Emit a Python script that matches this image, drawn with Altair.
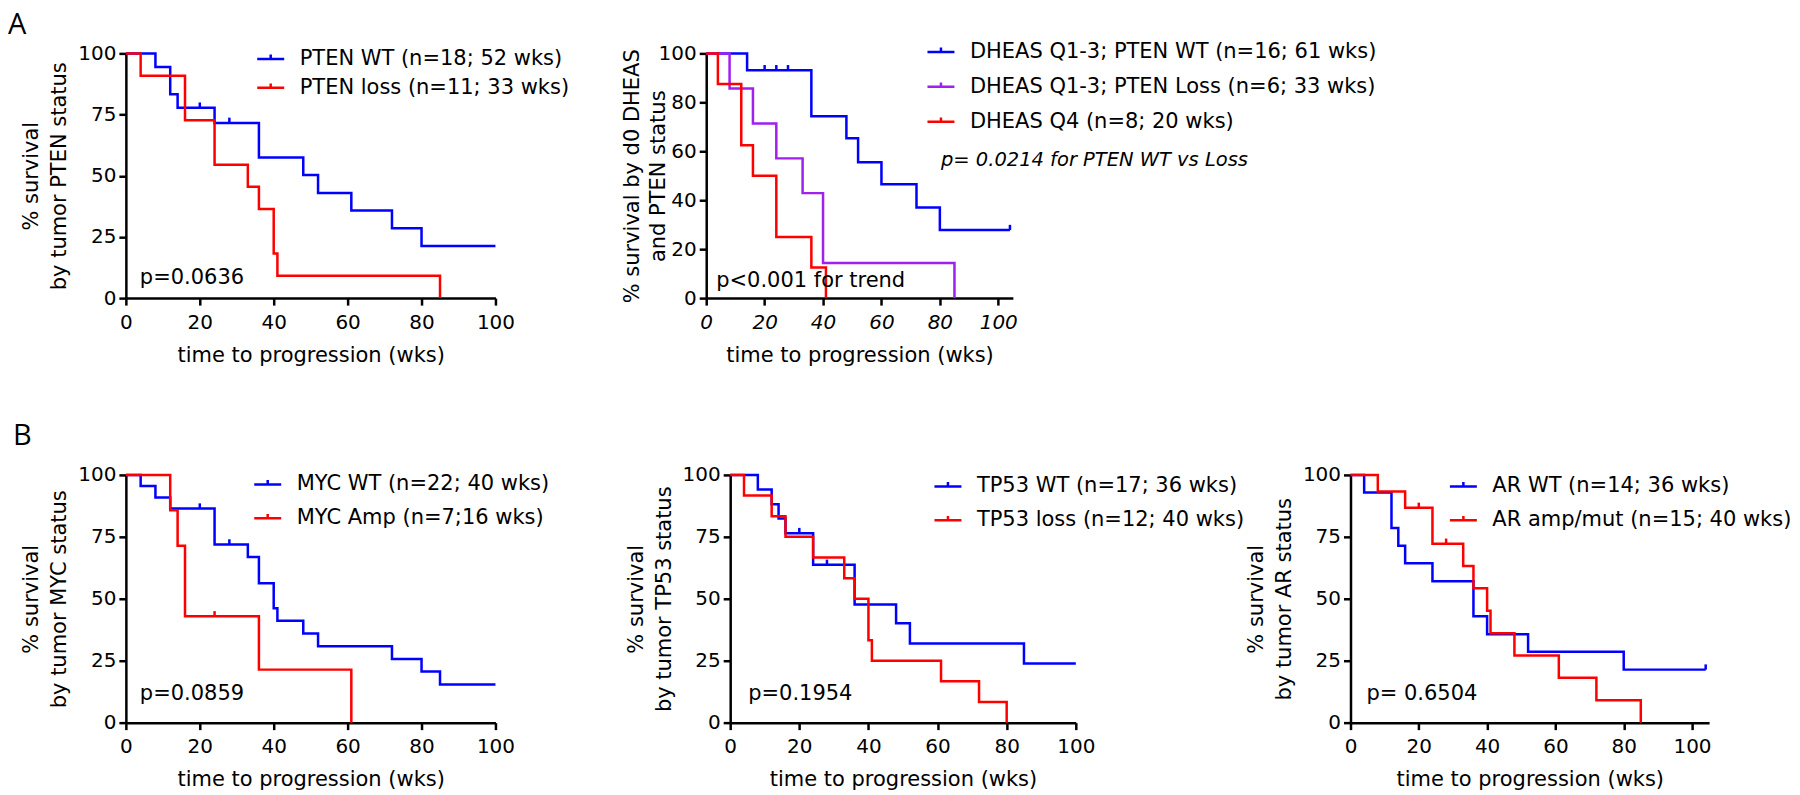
import altair as alt
import pandas as pd

BLUE = "#0000ff"
RED = "#ff0000"
PURPLE = "#a020f0"
FONT = "DejaVu Sans"

# ---------------- Panel A1: PTEN ----------------
pten_labels = ["PTEN WT (n=18; 52 wks)", "PTEN loss (n=11; 33 wks)"]
pten_wt_t = [0, 8, 12, 14, 24, 36, 48, 52, 61, 72, 80, 100]
pten_wt_s = [100, 94.4, 83.3, 77.8, 71.6, 57.5, 50.3, 43.0, 35.8, 28.5, 21.3, 21.3]
pten_wt_cens_t = [20, 28]
pten_wt_cens_s = [77.8, 71.6]
pten_loss_t = [0, 4, 16, 24, 33, 36, 40, 41, 85]
pten_loss_s = [100, 90.9, 72.7, 54.5, 45.5, 36.4, 18.2, 9.1, 0]

# ---------------- Panel A2: DHEAS ----------------
dheas_labels = ["DHEAS Q1-3; PTEN WT (n=16; 61 wks)",
                "DHEAS Q1-3; PTEN Loss (n=6; 33 wks)",
                "DHEAS Q4 (n=8; 20 wks)"]
dheas_wt_t = [0, 14, 36, 48, 52, 60, 72, 80, 104]
dheas_wt_s = [100, 93.1, 74.3, 65.3, 55.5, 46.5, 37.0, 27.8, 27.8]
dheas_wt_cens_t = [20, 24, 28, 104]
dheas_wt_cens_s = [93.1, 93.1, 93.1, 27.8]
dheas_loss_t = [0, 8, 16, 24, 33, 40, 85]
dheas_loss_s = [100, 85.7, 71.4, 57.1, 42.9, 14.3, 0]
dheas_q4_t = [0, 4, 12, 16, 24, 36, 41]
dheas_q4_s = [100, 87.5, 62.5, 50.0, 25.0, 12.5, 0]

# ---------------- Panel B1: MYC ----------------
myc_labels = ["MYC WT (n=22; 40 wks)", "MYC Amp (n=7;16 wks)"]
myc_wt_t = [0, 4, 8, 12, 24, 33, 36, 40, 41, 48, 52, 72, 80, 85, 100]
myc_wt_s = [100, 95.5, 90.9, 86.4, 71.9, 66.9, 56.3, 46.2, 41.1, 36.0, 30.8, 25.7, 20.6, 15.4, 15.4]
myc_wt_cens_t = [20, 28]
myc_wt_cens_s = [86.4, 71.9]
myc_amp_t = [0, 12, 14, 16, 36, 61]
myc_amp_s = [100, 85.7, 71.4, 42.9, 21.4, 0]
myc_amp_cens_t = [24]
myc_amp_cens_s = [42.9]

# ---------------- Panel B2: TP53 ----------------
tp53_labels = ["TP53 WT (n=17; 36 wks)", "TP53 loss (n=12; 40 wks)"]
tp53_wt_t = [0, 8, 12, 14, 16, 24, 36, 48, 52, 85, 100]
tp53_wt_s = [100, 94.1, 88.2, 82.4, 76.5, 63.7, 47.7, 40.1, 31.9, 23.9, 23.9]
tp53_wt_cens_t = [20, 28]
tp53_wt_cens_s = [76.5, 63.7]
tp53_loss_t = [0, 4, 12, 16, 24, 33, 36, 40, 41, 61, 72, 80]
tp53_loss_s = [100, 91.7, 83.3, 75.0, 66.7, 58.3, 50.0, 33.3, 25.0, 16.7, 8.3, 0]

# ---------------- Panel B3: AR ----------------
ar_labels = ["AR WT (n=14; 36 wks)", "AR amp/mut (n=15; 40 wks)"]
ar_wt_t = [0, 4, 12, 14, 16, 24, 36, 40, 52, 80, 104]
ar_wt_s = [100, 92.9, 78.6, 71.4, 64.3, 57.1, 42.9, 35.7, 28.6, 21.4, 21.4]
ar_wt_cens_t = [104]
ar_wt_cens_s = [21.4]
ar_mut_t = [0, 8, 16, 24, 33, 36, 40, 41, 48, 61, 72, 85]
ar_mut_s = [100, 93.3, 86.7, 72.2, 63.2, 54.2, 45.2, 36.1, 27.1, 18.1, 9.0, 0]
ar_mut_cens_t = [20, 28]
ar_mut_cens_s = [86.7, 72.2]

x_ticks = [0, 20, 40, 60, 80, 100]
y_ticks_25 = [0, 25, 50, 75, 100]
y_ticks_20 = [0, 20, 40, 60, 80, 100]


def make_panel(series, censors, labels, colors, xmax, width, height, ytitle,
               yticks, legend_x, legend_y, row_pad, notes, italic_ticks=False,
               panel_letter=None, ytitle_pad=8, ytitle_lh=28):
    line_rows = []
    for lab, ts, ss in series:
        for t, s in zip(ts, ss):
            line_rows.append({"t": t, "s": s, "grp": lab})
    cens_rows = []
    for lab, ts, ss in censors:
        for t, s in zip(ts, ss):
            cens_rows.append({"t": t, "s": s, "grp": lab})
    df_line = pd.DataFrame(line_rows)
    df_cens = pd.DataFrame(cens_rows)

    xenc = alt.X("t:Q", scale=alt.Scale(domain=[0, xmax], nice=False, zero=True),
                 axis=alt.Axis(values=x_ticks, title="time to progression (wks)",
                               labelFontStyle="italic" if italic_ticks else "normal"))
    yenc = alt.Y("s:Q", scale=alt.Scale(domain=[0, 100], nice=False),
                 axis=alt.Axis(values=yticks, title=ytitle, titlePadding=ytitle_pad,
                               titleLineHeight=ytitle_lh))
    color_scale = alt.Scale(domain=labels, range=colors)

    lines = alt.Chart(df_line).mark_line(interpolate="step-after", strokeWidth=2.5).encode(
        x=xenc, y=yenc,
        color=alt.Color("grp:N", scale=color_scale, sort=labels,
                        legend=alt.Legend(orient="none", legendX=legend_x, legendY=legend_y,
                                          title=None, symbolType="M-1,0H1M0,0V-0.32",
                                          symbolSize=729, symbolStrokeWidth=2.5,
                                          labelFont=FONT, labelFontSize=21, labelLimit=1000,
                                          labelColor="black", labelOffset=14,
                                          rowPadding=row_pad, padding=0, offset=0)),
    )
    cens = alt.Chart(df_cens).mark_point(shape="M0,0V-1", size=110, strokeWidth=2.5,
                                         filled=False, opacity=1).encode(
        x="t:Q", y="s:Q",
        color=alt.Color("grp:N", scale=color_scale, sort=labels, legend=None),
    )
    layers = [lines, cens]
    for txt, nx, ny, style in notes:
        df_n = pd.DataFrame({"label": [txt]})
        if style == "italic":
            mk = alt.Chart(df_n).mark_text(align="left", baseline="middle", fontSize=19.5,
                                           fontStyle="italic", font=FONT, color="black")
        else:
            mk = alt.Chart(df_n).mark_text(align="left", baseline="middle", fontSize=21,
                                           font=FONT, color="black")
        layers.append(mk.encode(x=alt.value(nx), y=alt.value(ny), text="label:N"))
    if panel_letter is not None:
        lt, lx, ly = panel_letter
        df_l = pd.DataFrame({"label": [lt]})
        layers.append(alt.Chart(df_l).mark_text(align="left", baseline="top", fontSize=29,
                                                font="Open Sans", color="black").encode(
            x=alt.value(lx), y=alt.value(ly), text="label:N"))
    return alt.layer(*layers).properties(width=width, height=height)


A1 = make_panel(
    [(pten_labels[0], pten_wt_t, pten_wt_s), (pten_labels[1], pten_loss_t, pten_loss_s)],
    [(pten_labels[0], pten_wt_cens_t, pten_wt_cens_s)],
    pten_labels, [BLUE, RED], 100, 370, 245,
    ["% survival", "by tumor PTEN status"], y_ticks_25, 130, -9.5, 4,
    [("p=0.0636", 14, 225, "normal")], panel_letter=("A", -118, -42))

A2 = make_panel(
    [(dheas_labels[0], dheas_wt_t, dheas_wt_s), (dheas_labels[1], dheas_loss_t, dheas_loss_s),
     (dheas_labels[2], dheas_q4_t, dheas_q4_s)],
    [(dheas_labels[0], dheas_wt_cens_t, dheas_wt_cens_s)],
    dheas_labels, [BLUE, PURPLE, RED], 105, 307, 245,
    ["%  survival by d0 DHEAS", "and PTEN status"], y_ticks_20, 220, -16.5, 10,
    [("p<0.001 for trend", 10, 228, "normal"),
     ("p= 0.0214 for PTEN WT vs Loss", 235, 107, "italic")], italic_ticks=True,
    ytitle_pad=-10, ytitle_lh=26)

B1 = make_panel(
    [(myc_labels[0], myc_wt_t, myc_wt_s), (myc_labels[1], myc_amp_t, myc_amp_s)],
    [(myc_labels[0], myc_wt_cens_t, myc_wt_cens_s), (myc_labels[1], myc_amp_cens_t, myc_amp_cens_s)],
    myc_labels, [BLUE, RED], 100, 370, 248,
    ["% survival", "by tumor MYC status"], y_ticks_25, 127, -5.5, 9,
    [("p=0.0859", 14, 219, "normal")], panel_letter=("B", -113, -53))

B2 = make_panel(
    [(tp53_labels[0], tp53_wt_t, tp53_wt_s), (tp53_labels[1], tp53_loss_t, tp53_loss_s)],
    [(tp53_labels[0], tp53_wt_cens_t, tp53_wt_cens_s)],
    tp53_labels, [BLUE, RED], 100, 346, 248,
    ["% survival", "by tumor TP53 status"], y_ticks_25, 203, -3.5, 9,
    [("p=0.1954", 18, 219, "normal")])

B3 = make_panel(
    [(ar_labels[0], ar_wt_t, ar_wt_s), (ar_labels[1], ar_mut_t, ar_mut_s)],
    [(ar_labels[0], ar_wt_cens_t, ar_wt_cens_s), (ar_labels[1], ar_mut_cens_t, ar_mut_cens_s)],
    ar_labels, [BLUE, RED], 105, 359, 248,
    ["% survival", "by tumor AR status"], y_ticks_25, 98, -3.5, 9,
    [("p= 0.6504", 16, 219, "normal")])


def indep(c):
    return c.resolve_scale(color="independent", x="independent", y="independent") \
            .resolve_legend(color="independent")


row_a = indep(alt.hconcat(A1, A2, spacing=211, bounds="flush"))
b23 = indep(alt.hconcat(B2, B3, spacing=275, bounds="flush"))
row_b = indep(alt.hconcat(B1, b23, spacing=235, bounds="flush"))

chart = indep(alt.vconcat(row_a, row_b, spacing=57, bounds="full")).properties(
    padding={"left": 0, "top": 3, "right": 0, "bottom": 0}, background="white"
).configure_view(stroke=None).configure_axis(
    grid=False, domainColor="black", domainWidth=2.5, tickColor="black", tickWidth=2.5,
    tickSize=7, labelFont=FONT, labelFontSize=20, labelColor="black", labelPadding=3,
    titleFont=FONT, titleFontSize=21, titleFontWeight="normal", titleColor="black",
    labelFlush=False, titleLineHeight=28
).configure_axisX(labelPadding=7, titlePadding=12).configure_axisY(titlePadding=8)

chart.save("out.html", embed_options={"renderer": "svg", "actions": False})
